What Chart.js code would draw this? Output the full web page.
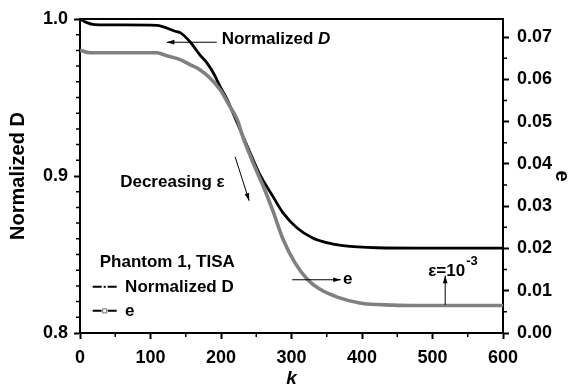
<!DOCTYPE html>
<html>
<head>
<meta charset="utf-8">
<script src="https://cdn.jsdelivr.net/npm/chart.js@4/dist/chart.umd.min.js"></script>
<style>
  html, body { margin: 0; padding: 0; background: #fff; }
  #wrap { width: 576px; height: 390px; }
</style>
</head>
<body>
<div id="wrap"><canvas id="chart" width="576" height="390"></canvas></div>
<script>
// --- data ---
const kD = [0, 8, 21, 60, 109, 135, 142, 156, 170, 180, 189, 199, 209, 217, 245, 255, 274, 288, 308, 330, 350, 373, 421, 482, 600];
const normD = [1.000, 0.998, 0.9964, 0.9962, 0.9960, 0.9922, 0.9913, 0.9855, 0.9772, 0.9721, 0.9658, 0.9568, 0.9485, 0.9402, 0.9110, 0.9010, 0.8867, 0.8765, 0.8669, 0.8605, 0.8575, 0.8556, 0.8543, 0.8541, 0.8541];

const kE = [0, 14, 109, 123, 142, 156, 170, 184, 199, 213, 223, 231, 248, 262, 274, 288, 305, 322, 340, 365, 397, 444, 482, 600];
const errE = [0.0669, 0.0663, 0.0663, 0.0656, 0.0647, 0.0635, 0.0623, 0.0604, 0.0575, 0.0535, 0.0505, 0.0464, 0.0393, 0.0339, 0.0287, 0.0222, 0.0166, 0.0128, 0.0104, 0.0085, 0.0071, 0.0066, 0.0065, 0.0065];

const kTicks = [0, 100, 200, 300, 400, 500, 600];
const dTicks = [0.8, 0.9, 1.0];
const eTicks = [0, 0.01, 0.02, 0.03, 0.04, 0.05, 0.06, 0.07];

const FONT = 'Arial, "Liberation Sans", Helvetica, sans-serif';
const pts = (xs, ys) => xs.map((x, i) => ({ x: x, y: ys[i] }));

// --- frame, minor ticks, notes and legend ---
function arrow(ctx, x1, y1, x2, y2) {
    const a = Math.atan2(y2 - y1, x2 - x1);
    ctx.beginPath();
    ctx.moveTo(x1, y1);
    ctx.lineTo(x2, y2);
    ctx.stroke();
    ctx.beginPath();
    ctx.moveTo(x2, y2);
    ctx.lineTo(x2 - 8 * Math.cos(a - 0.3), y2 - 8 * Math.sin(a - 0.3));
    ctx.lineTo(x2 - 8 * Math.cos(a + 0.3), y2 - 8 * Math.sin(a + 0.3));
    ctx.closePath();
    ctx.fill();
}

const extras = {
    id: 'extras',
    afterDraw(chart) {
        const ctx = chart.ctx;
        const a = chart.chartArea;
        const sx = chart.scales.x, sy = chart.scales.y, se = chart.scales.y1;
        ctx.save();
        ctx.strokeStyle = '#000';
        ctx.fillStyle = '#000';

        // top frame line
        ctx.lineWidth = 2;
        ctx.beginPath();
        ctx.moveTo(a.left - 1, a.top);
        ctx.lineTo(a.right + 1, a.top);
        ctx.stroke();

        // minor ticks
        ctx.lineWidth = 1.5;
        ctx.beginPath();
        for (let k = 50; k < 600; k += 100) {
            const x = sx.getPixelForValue(k);
            ctx.moveTo(x, a.bottom); ctx.lineTo(x, a.bottom + 4);
        }
        for (let i = 1; i < 20; i++) {
            if (i % 10 === 0) continue;
            const y = sy.getPixelForValue(0.8 + i * 0.01);
            ctx.moveTo(a.left, y); ctx.lineTo(a.left - 4, y);
        }
        for (let i = 0; i < 7; i++) {
            const y = se.getPixelForValue(0.005 + i * 0.01);
            ctx.moveTo(a.right, y); ctx.lineTo(a.right + 4, y);
        }
        ctx.stroke();

        // annotations
        ctx.lineWidth = 1;
        ctx.textBaseline = 'middle';
        ctx.textAlign = 'left';
        const bold = 'bold 17px ' + FONT;

        ctx.font = bold;
        let x0 = sx.getPixelForValue(201), y0 = sy.getPixelForValue(0.9868);
        ctx.fillText('Normalized ', x0, y0);
        const w = ctx.measureText('Normalized ').width;
        ctx.font = 'italic bold 17px ' + FONT;
        ctx.fillText('D', x0 + w, y0);
        arrow(ctx, sx.getPixelForValue(194), sy.getPixelForValue(0.9852), sx.getPixelForValue(123), sy.getPixelForValue(0.9852));

        ctx.font = bold;
        ctx.fillText('Decreasing \u03b5', sx.getPixelForValue(57), sy.getPixelForValue(0.8957));
        arrow(ctx, sx.getPixelForValue(220), sy.getPixelForValue(0.9122), sx.getPixelForValue(240), sy.getPixelForValue(0.8842));

        ctx.fillText('e', sx.getPixelForValue(373), se.getPixelForValue(0.0126));
        arrow(ctx, sx.getPixelForValue(301), se.getPixelForValue(0.0126), sx.getPixelForValue(370), se.getPixelForValue(0.0126));

        x0 = sx.getPixelForValue(494); y0 = se.getPixelForValue(0.0147);
        ctx.fillText('\u03b5=10', x0, y0);
        const w2 = ctx.measureText('\u03b5=10').width;
        ctx.font = 'bold 13px ' + FONT;
        ctx.fillText('-3', x0 + w2 + 1, y0 - 9);
        arrow(ctx, sx.getPixelForValue(518), se.getPixelForValue(0.0066), sx.getPixelForValue(518), se.getPixelForValue(0.0136));

        // legend
        ctx.font = bold;
        ctx.fillText('Phantom 1, TISA', sx.getPixelForValue(28), sy.getPixelForValue(0.8451));
        const lx1 = sx.getPixelForValue(18), lx2 = sx.getPixelForValue(52), tx = sx.getPixelForValue(64);
        let ly = sy.getPixelForValue(0.8294);
        ctx.lineWidth = 2;
        ctx.beginPath();
        ctx.moveTo(lx1, ly); ctx.lineTo(lx1 + 9, ly);
        ctx.moveTo(lx2 - 9, ly); ctx.lineTo(lx2, ly);
        ctx.stroke();
        ctx.fillRect((lx1 + lx2) / 2 - 1, ly - 1, 2, 2);
        ctx.fillText('Normalized D', tx, ly);

        ly = sy.getPixelForValue(0.8141);
        ctx.beginPath();
        ctx.moveTo(lx1, ly); ctx.lineTo(lx1 + 9, ly);
        ctx.moveTo(lx2 - 9, ly); ctx.lineTo(lx2, ly);
        ctx.stroke();
        ctx.lineWidth = 1;
        ctx.strokeStyle = '#777';
        ctx.strokeRect((lx1 + lx2) / 2 - 2, ly - 2, 4, 4);
        ctx.fillText('e', tx, ly);

        ctx.restore();
    }
};

const tickFont = { family: FONT, size: 18, weight: 'bold' };
const axisGrid = { display: true, drawOnChartArea: false, tickLength: 6, tickWidth: 2, tickColor: '#000', color: '#000' };
const axisBorder = { display: true, color: '#000', width: 2 };

new Chart(document.getElementById('chart'), {
    type: 'line',
    data: {
        datasets: [
            {
                label: 'e',
                data: pts(kE, errE),
                yAxisID: 'y1',
                borderColor: '#808080',
                borderWidth: 3.6,
                pointRadius: 0,
                cubicInterpolationMode: 'monotone'
            },
            {
                label: 'e (inner)',
                data: pts(kE, errE),
                yAxisID: 'y1',
                borderColor: '#dcdcdc',
                borderWidth: 1.2,
                pointRadius: 0,
                cubicInterpolationMode: 'monotone'
            },
            {
                label: 'Normalized D',
                data: pts(kD, normD),
                yAxisID: 'y',
                borderColor: '#000',
                borderWidth: 2.8,
                pointRadius: 0,
                cubicInterpolationMode: 'monotone'
            }
        ]
    },
    options: {
        responsive: false,
        animation: false,
        layout: { padding: { top: 19, left: 0, right: 0, bottom: 0 } },
        plugins: { legend: { display: false }, tooltip: { enabled: false } },
        scales: {
            x: {
                type: 'linear',
                min: 0, max: 600,
                afterFit: s => { s.height = 57; },
                afterBuildTicks: s => { s.ticks = kTicks.map(v => ({ value: v })); },
                ticks: { font: tickFont, color: '#000', padding: 8, maxRotation: 0 },
                grid: axisGrid,
                border: axisBorder,
                title: { display: true, text: 'k', color: '#000', padding: 0,
                         font: { family: FONT, size: 19, weight: 'bold', style: 'italic' } }
            },
            y: {
                position: 'left',
                min: 0.8, max: 1.0,
                afterFit: s => { s.width = 80; },
                afterBuildTicks: s => { s.ticks = dTicks.map(v => ({ value: v })); },
                ticks: { font: tickFont, color: '#000', padding: 6, callback: v => v.toFixed(1) },
                grid: axisGrid,
                border: axisBorder,
                title: { display: true, text: 'Normalized D', color: '#000', padding: { top: 6, bottom: 0 },
                         font: { family: FONT, size: 20, weight: 'bold' } }
            },
            y1: {
                position: 'right',
                min: 0, max: 0.0743,
                afterFit: s => { s.width = 73; },
                afterBuildTicks: s => { s.ticks = eTicks.map(v => ({ value: v })); },
                ticks: { font: tickFont, color: '#000', padding: 8, callback: v => v.toFixed(2) },
                grid: axisGrid,
                border: axisBorder,
                title: { display: true, text: 'e', color: '#000', padding: { top: 2, bottom: 0 },
                         font: { family: FONT, size: 20, weight: 'bold' } }
            }
        }
    },
    plugins: [extras]
});
</script>
</body>
</html>
